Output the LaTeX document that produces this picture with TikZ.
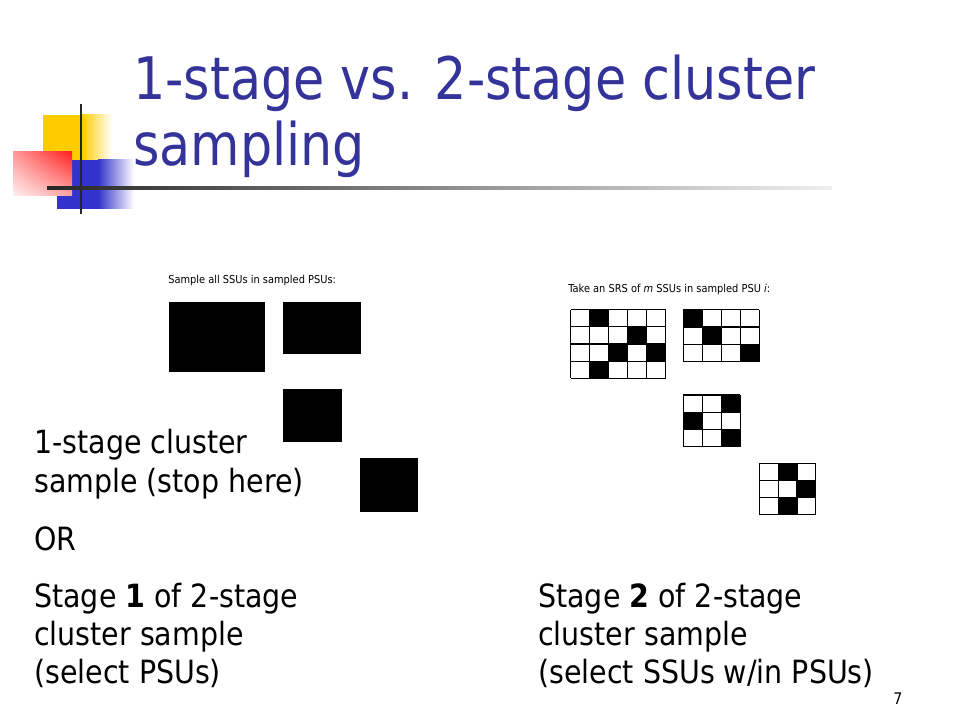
\documentclass[tikz,border=0pt]{standalone}
\usepackage{fontspec}
\usetikzlibrary{shadings}
\setmainfont{DejaVu Sans}[FakeStretch=0.89]
\newfontfamily\titlefont{DejaVu Sans}[FakeStretch=0.865]
\newfontfamily\smallfont{DejaVu Sans}[FakeStretch=0.9]
\definecolor{titleblue}{HTML}{333399}
\definecolor{logoyellow}{HTML}{FFCC00}
\definecolor{logoblue}{HTML}{3333CC}
\definecolor{logored}{HTML}{FF2020}
\newcommand{\ssugrid}[7]{%
  \foreach \cc/\rr in {#7} {\fill[black] ({#1+\cc*#5},{#2+\rr*#6}) rectangle ++(#5,#6);}
  \foreach \ii in {0,...,#3} {\draw[gridline] ({#1+\ii*#5},#2) -- ++(0,{#4*#6});}
  \foreach \jj in {0,...,#4} {\draw[gridline] (#1,{#2+\jj*#6}) -- ++({#3*#5},0);}
}
\begin{document}
\begin{tikzpicture}[x=0.75pt,y=-0.75pt,
  gridline/.style={draw=black, line width=0.9pt},
  ttl/.style={anchor=base west, inner sep=0pt, text=titleblue, font=\titlefont\fontsize{44}{53}\selectfont},
  txt/.style={anchor=base west, inner sep=0pt, font=\fontsize{24}{29}\selectfont},
  tiny/.style={anchor=base west, inner sep=0pt, font=\smallfont\fontsize{8.2}{9}\selectfont}]
\useasboundingbox[fill=white] (0,0) rectangle (960,720);
% logo
\fill[logoyellow] (43,115) rectangle (82,160);
\shade[left color=logoyellow, right color=white] (82,115) rectangle (112,160);
\fill[logoblue] (57,160) rectangle (98,209);
\shade[left color=logoblue, right color=white] (98,160) rectangle (134,209);
\shade[upper right=logored, lower left=red!6, upper left=red!40, lower right=red!35] (13,152) rectangle (72,196);
\draw[black!85, line width=2pt] (81,104) -- (81,214);
\shade[left color=black!85, middle color=black!50, right color=black!6] (47,186.5) rectangle (832,189.5);
% title
\node[ttl] (t1) at (133,100) {1-stage vs. 2-stage cluster};
\node[ttl] (t2) at (133,166) {sampling};
% left figure
\node[tiny] (lbl1) at (168,284) {Sample all SSUs in sampled PSUs:};
\fill[black] (169,302.3) rectangle (265,372.3);
\fill[black] (283.3,302.3) rectangle (361,354.3);
\fill[black] (283.3,389) rectangle (341.7,441.7);
\fill[black] (360,458.3) rectangle (417.7,511.7);
% right figure
\node[tiny] (lbl2) at (568,292) {Take an SRS of \textit{m} SSUs in sampled PSU \textit{i}:};
\ssugrid{570.7}{309.5}{5}{4}{19}{17.2}{1/0,3/1,2/2,4/2,1/3}
\ssugrid{683.3}{309.5}{4}{3}{19}{17.4}{0/0,1/1,3/2}
\ssugrid{683.3}{395}{3}{3}{19}{17.2}{2/0,0/1,2/2}
\ssugrid{759.3}{463.3}{3}{3}{18.8}{17}{1/0,2/1,1/2}
% body text
\node[txt] (a1) at (34,453) {1-stage cluster};
\node[txt] (a2) at (34,492) {sample (stop here)};
\node[txt] (a3) at (34,550) {OR};
\node[txt] (a4) at (34,607) {Stage \textbf{1} of 2-stage};
\node[txt] (a5) at (34,645) {cluster sample};
\node[txt] (a6) at (34,683) {(select PSUs)};
\node[txt] (b4) at (538,607) {Stage \textbf{2} of 2-stage};
\node[txt] (b5) at (538,645) {cluster sample};
\node[txt] (b6) at (538,683) {(select SSUs w/in PSUs)};
\node[anchor=base west, inner sep=0pt, font=\fontsize{12}{14}\selectfont] (pg) at (893,704) {7};
\end{tikzpicture}
\end{document}
